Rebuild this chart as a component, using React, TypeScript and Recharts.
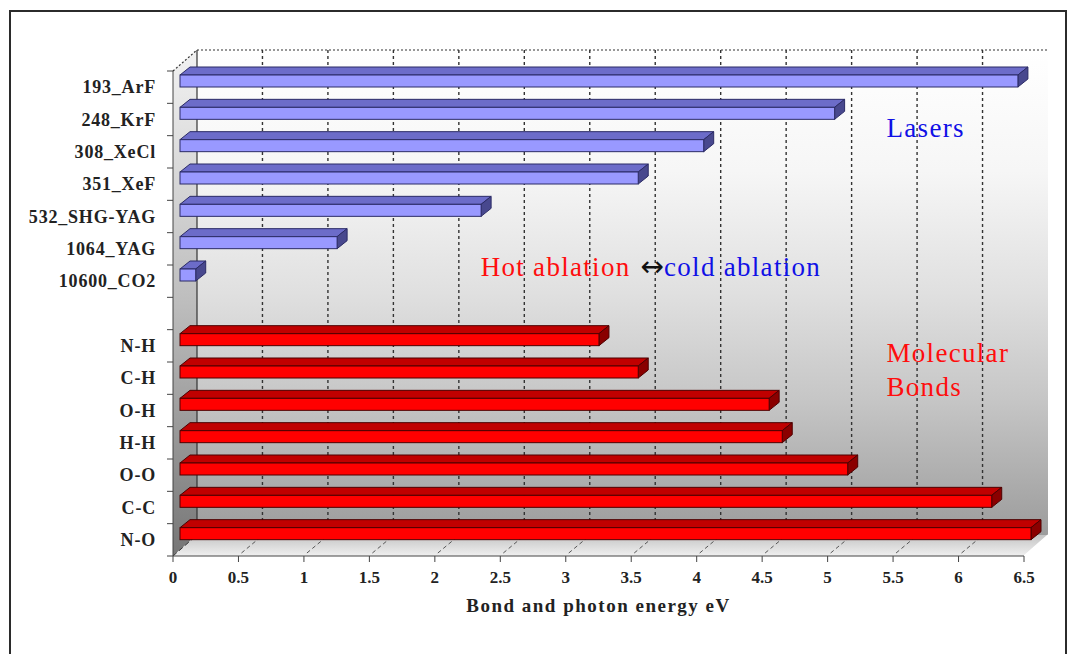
import React from 'react'
import { BarChart, Bar, XAxis, YAxis, ReferenceArea } from 'recharts'

// lasers: wavelength (nm) + gas, photon energy in eV
const laserNames = ['193_ArF', '248_KrF', '308_XeCl', '351_XeF', '532_SHG-YAG', '1064_YAG', '10600_CO2']
const laserEnergy = [6.4, 5.0, 4.0, 3.5, 2.3, 1.2, 0.12]

// molecular bond energies in eV
const bondNames = ['N-H', 'C-H', 'O-H', 'H-H', 'O-O', 'C-C', 'N-O']
const bondEnergy = [3.2, 3.5, 4.5, 4.6, 5.1, 6.2, 6.5]

const energyTicks = [0, 0.5, 1, 1.5, 2, 2.5, 3, 3.5, 4, 4.5, 5, 5.5, 6, 6.5]

const data = [
	...laserNames.map((name, i) => ({ name, value: laserEnergy[i], group: 'laser' })),
	{ name: ' ', value: null, group: 'gap' },
	...bondNames.map((name, i) => ({ name, value: bondEnergy[i], group: 'bond' })),
]

const W = 1074
const H = 654
const SERIF = '"Liberation Serif", "Times New Roman", serif'

// depth of the 3D box (walls) and of each bar
const DX = 24
const DY = -21
const BAR_DX = 10
const BAR_DY = -8
const BAR_SHIFT_X = 7
const BAR_SHIFT_Y = -6

const TICK_SIZE = 6
const TICK_MARGIN = 11

const palettes: Record<string, { front: string; top: string; side: string; edge: string }> = {
	laser: { front: '#9999ff', top: '#6c6cc9', side: '#48488e', edge: '#2b2b66' },
	bond: { front: '#ff0000', top: '#c00000', side: '#8a0000', edge: '#4d0000' },
}

const Bar3D = (props: any) => {
	const { x, y, width, height, payload } = props
	if (payload == null || payload.value == null || !width) return null
	const p = palettes[payload.group]
	const fx = x + BAR_SHIFT_X
	const fy = y + BAR_SHIFT_Y
	const top = `${fx},${fy} ${fx + BAR_DX},${fy + BAR_DY} ${fx + width + BAR_DX},${fy + BAR_DY} ${fx + width},${fy}`
	const side = `${fx + width},${fy} ${fx + width + BAR_DX},${fy + BAR_DY} ${fx + width + BAR_DX},${fy + height + BAR_DY} ${fx + width},${fy + height}`
	return (
		<g>
			<polygon points={top} fill={p.top} stroke={p.edge} strokeWidth={1} strokeLinejoin="round" />
			<polygon points={side} fill={p.side} stroke={p.edge} strokeWidth={1} strokeLinejoin="round" />
			<rect x={fx} y={fy} width={width} height={height} fill={p.front} stroke={p.edge} strokeWidth={1} />
		</g>
	)
}

// walls, floor, grid and the text notes, all hung off the plot rectangle
const Backdrop = (props: any) => {
	const { x, y, width, height } = props
	const max = energyTicks[energyTicks.length - 1]
	const px = (v: number) => x + (v / max) * width
	const bottom = y + height
	const inner = energyTicks.filter((t) => t > 0 && t < max)
	const note = { fontFamily: SERIF, fontSize: 27, letterSpacing: 1.3 }
	return (
		<g>
			<defs>
				<linearGradient id="backWall" x1="0" y1="0" x2="0" y2="1">
					<stop offset="0%" stopColor="#ffffff" />
					<stop offset="25%" stopColor="#f6f6f6" />
					<stop offset="50%" stopColor="#e0e0e0" />
					<stop offset="72%" stopColor="#c6c6c6" />
					<stop offset="100%" stopColor="#9c9c9c" />
				</linearGradient>
				<linearGradient id="leftWall" x1="0" y1="0" x2="0" y2="1">
					<stop offset="0%" stopColor="#f2f2f2" />
					<stop offset="50%" stopColor="#bdbdbd" />
					<stop offset="100%" stopColor="#767676" />
				</linearGradient>
				<linearGradient id="floor" x1="0" y1="0" x2="0" y2="1">
					<stop offset="0%" stopColor="#c4c4c4" />
					<stop offset="100%" stopColor="#f0f0f0" />
				</linearGradient>
			</defs>
			<rect x={x + DX} y={y + DY} width={width} height={height} fill="url(#backWall)" />
			<polygon
				points={`${x},${y} ${x + DX},${y + DY} ${x + DX},${bottom + DY} ${x},${bottom}`}
				fill="url(#leftWall)"
			/>
			<polygon
				points={`${x},${bottom} ${x + width},${bottom} ${x + width + DX},${bottom + DY} ${x + DX},${bottom + DY}`}
				fill="url(#floor)"
			/>
			{inner.map((t) => (
				<line key={'g' + t} x1={px(t) + DX} y1={y + DY} x2={px(t) + DX} y2={bottom + DY}
					stroke="#333" strokeWidth={1.4} strokeDasharray="3 3" />
			))}
			{inner.map((t) => (
				<line key={'f' + t} x1={px(t) + 3} y1={bottom - 3} x2={px(t) + DX - 3} y2={bottom + DY + 3}
					stroke="#555" strokeWidth={1} strokeDasharray="4 3" />
			))}
			<line x1={x + DX} y1={y + DY} x2={x + DX} y2={bottom + DY} stroke="#333" strokeWidth={1.2} />
			<line x1={x + DX} y1={y + DY} x2={x + width + DX} y2={y + DY} stroke="#333" strokeWidth={1.2} strokeDasharray="2 2" />
			<line x1={x} y1={y} x2={x + DX} y2={y + DY} stroke="#333" strokeWidth={1.2} strokeDasharray="2 2" />
			<line x1={x} y1={bottom} x2={x + DX} y2={bottom + DY} stroke="#333" strokeWidth={1} strokeDasharray="5 3" />
			<line x1={x + width} y1={bottom} x2={x + width + DX} y2={bottom + DY} stroke="#ffffff" strokeWidth={1.2} />

			<text x={px(5.45)} y={y + 66} {...note} fill="#1010e6">Lasers</text>
			<text x={px(2.35)} y={y + 205} {...note}>
				<tspan fill="#ff0d0d">Hot ablation </tspan>
				<tspan fill="#111" fontFamily='"DejaVu Sans", sans-serif' fontSize={28} letterSpacing={0} dx={2}>↔</tspan>
				<tspan fill="#1010e6">cold ablation</tspan>
			</text>
			<text x={px(5.45)} y={y + 291} {...note} fill="#ff0d0d">Molecular</text>
			<text x={px(5.45)} y={y + 325} {...note} fill="#ff0d0d">Bonds</text>
		</g>
	)
}

const CategoryTick = (props: any) => {
	const { x, y, payload, index, visibleTicksCount } = props
	const axisX = x + TICK_SIZE + TICK_MARGIN
	const half = payload && payload.offset ? payload.offset : 485 / data.length / 2
	const last = index === (visibleTicksCount ?? data.length) - 1
	return (
		<g>
			<line x1={axisX - TICK_SIZE} y1={y - half} x2={axisX} y2={y - half} stroke="#444" />
			{last && <line x1={axisX - TICK_SIZE} y1={y + half} x2={axisX} y2={y + half} stroke="#444" />}
			<text x={x} y={y} dy="0.35em" textAnchor="end" fontFamily={SERIF} fontWeight="bold"
				fontSize={18} fill="#222" letterSpacing={0.8}>
				{payload.value}
			</text>
		</g>
	)
}

export default function App() {
	return (
		<div style={{ position: 'relative', width: W, height: H, overflow: 'hidden', background: '#fff' }}>
			<style>{'body{margin:0}'}</style>
			<div style={{
				position: 'absolute', left: 9, top: 10, width: 1058, height: 700, boxSizing: 'border-box',
				border: '2px solid #2b2b2b', pointerEvents: 'none',
			}} />
			<BarChart width={W} height={H} data={data} layout="vertical" barSize={12}
				margin={{ top: 71, right: 50, bottom: 38, left: 10 }}>
				<ReferenceArea x1={0} x2={6.5} shape={<Backdrop />} />
				<Bar dataKey="value" shape={<Bar3D />} isAnimationActive={false} />
				<XAxis type="number" domain={[0, 6.5]} ticks={energyTicks} interval={0} height={60}
					tickSize={6} tickMargin={9} stroke="#444"
					tick={{ fontFamily: SERIF, fontWeight: 'bold', fontSize: 17, fill: '#222' }}
					label={{ value: 'Bond and photon energy eV', position: 'insideBottom', offset: 4,
						style: { fontFamily: SERIF, fontWeight: 'bold', fontSize: 19, fill: '#222', letterSpacing: 1.5 } }} />
				<YAxis type="category" dataKey="name" width={163} interval={0} tickLine={false}
					tickSize={TICK_SIZE} tickMargin={TICK_MARGIN} stroke="#444" tick={<CategoryTick />} />
			</BarChart>
		</div>
	)
}
